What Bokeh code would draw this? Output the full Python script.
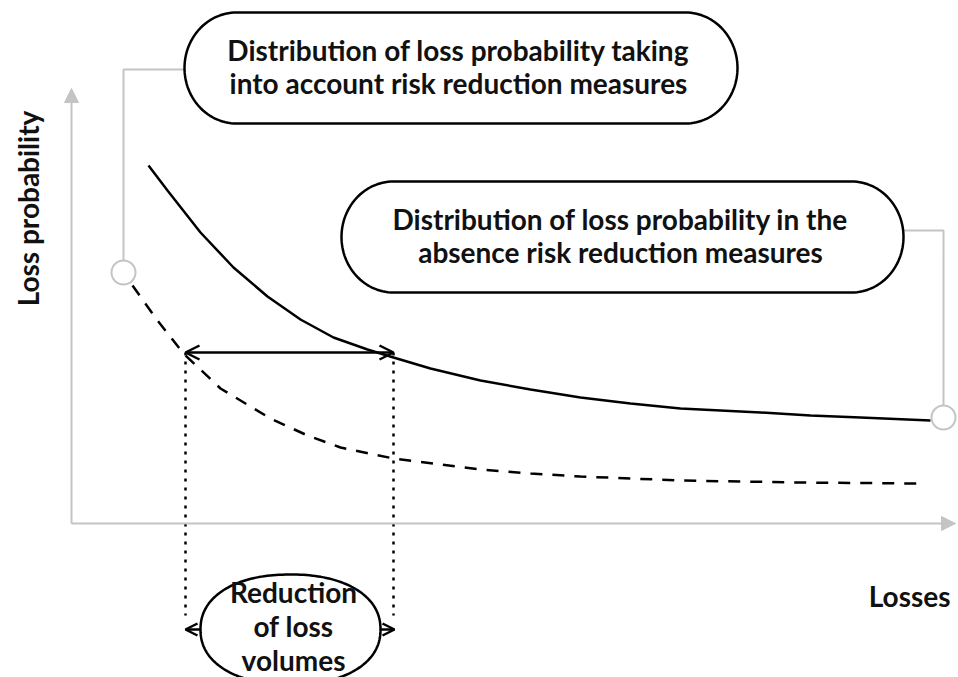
import numpy as np
from bokeh.plotting import figure
from bokeh.models import Range1d, Arrow, OpenHead, NormalHead
from bokeh.core.properties import value
from bokeh.embed import file_html
from bokeh.resources import INLINE

# ---- data (schematic; x = losses, y = probability in plot units) ----
losses_solid = [148, 167, 200, 233, 267, 300, 333, 367, 393, 430, 480, 530, 580, 630, 680, 720, 760, 810, 860, 930]
prob_solid = [165, 190, 232, 267, 296, 319, 337, 349, 357, 368, 380, 389, 397, 403, 408, 410, 412, 415, 417, 420]
losses_dashed = [132, 157, 183, 220, 270, 307, 340, 393, 440, 480, 530, 580, 630, 680, 740, 800, 860, 917]
prob_dashed = [285, 320, 353, 388, 418, 435, 447, 458, 464, 469, 473, 476, 478, 480, 481, 482, 482.5, 483]
marker_x = [123, 943]
marker_y = [272, 417]
reduction_from = 185
reduction_to = 393
reduction_level = 352

box1_lines = ["Distribution of loss probability taking", "into account risk reduction measures"]
box2_lines = ["Distribution of loss probability in the", "absence risk reduction measures"]
ellipse_lines = ["Reduction", "of loss", "volumes"]
x_label = "Losses"
y_label = "Loss probability"

FONT = value("Lato")
FS = "28px"
GRAY = "#c4c4c4"
INK = "#111111"

W, H = 958, 677
p = figure(width=W, height=H, x_range=Range1d(0, W), y_range=Range1d(H, 0),
           output_backend="svg", toolbar_location=None, min_border=0,
           x_axis_location=None, y_axis_location=None)
p.grid.visible = False
p.outline_line_color = None
p.background_fill_color = "white"


def stadium(x0, x1, y0, y1, rx):
    ry = (y1 - y0) / 2.0
    cy = (y0 + y1) / 2.0
    t1 = np.linspace(-np.pi / 2, np.pi / 2, 60)
    t2 = np.linspace(np.pi / 2, 3 * np.pi / 2, 60)
    xs = np.concatenate([x1 - rx + rx * np.cos(t1), x0 + rx + rx * np.cos(t2)])
    ys = np.concatenate([cy + ry * np.sin(t1), cy + ry * np.sin(t2)])
    return xs, ys


def superellipse(cx, cy, rx, ry, n):
    t = np.linspace(0, 2 * np.pi, 200)
    c, s = np.cos(t), np.sin(t)
    xs = cx + rx * np.sign(c) * np.abs(c) ** (2.0 / n)
    ys = cy + ry * np.sign(s) * np.abs(s) ** (2.0 / n)
    return xs, ys

# gray axes with arrowheads
p.add_layout(Arrow(x_start=71, y_start=523, x_end=71, y_end=88, line_color=GRAY, line_width=2,
                   end=NormalHead(size=14, fill_color=GRAY, line_color=GRAY)))
p.add_layout(Arrow(x_start=71, y_start=523, x_end=955, y_end=523, line_color=GRAY, line_width=2,
                   end=NormalHead(size=14, fill_color=GRAY, line_color=GRAY)))

# gray connectors
p.line([marker_x[0], marker_x[0], 185], [marker_y[0], 69, 69], line_color=GRAY, line_width=2)
p.line([marker_x[1], marker_x[1], 900], [marker_y[1], 230, 230], line_color=GRAY, line_width=2)

# curves
p.line(losses_solid, prob_solid, line_color="black", line_width=2.5)
p.line(losses_dashed, prob_dashed, line_color="black", line_width=2.5, line_dash="12 10")

# markers
p.scatter(marker_x, marker_y, size=24, marker="circle", fill_color="white",
          line_color=GRAY, line_width=2)

# dotted verticals
for xv in (reduction_from, reduction_to):
    p.line([xv, xv], [reduction_level, 615], line_color="black", line_width=2.5, line_dash="3 6")

# double arrow
p.add_layout(Arrow(x_start=reduction_from, y_start=reduction_level, x_end=reduction_to,
                   y_end=reduction_level, line_color="black", line_width=2.5,
                   start=OpenHead(size=14, line_width=2.5), end=OpenHead(size=14, line_width=2.5)))

# callout boxes
bx, by = stadium(184, 737, 12, 123, 52)
p.patch(bx, by, fill_color="white", line_color="black", line_width=2.5)
bx, by = stadium(341, 903, 181, 292, 52)
p.patch(bx, by, fill_color="white", line_color="black", line_width=2.5)

p.text([458, 458], [49, 82], text=box1_lines, text_font=FONT, text_font_style="bold",
       text_font_size=FS, text_align="center", text_baseline="alphabetic", text_color=INK)
p.text([620, 620], [218, 251], text=box2_lines, text_font=FONT, text_font_style="bold",
       text_font_size=FS, text_align="center", text_baseline="alphabetic", text_color=INK)

# rounded ellipse with small arrows
ex, ey = superellipse(290, 629, 90, 55, 2.2)
p.patch(ex, ey, fill_color="white", line_color="black", line_width=2.5)
p.add_layout(Arrow(x_start=200, y_start=629, x_end=185, y_end=629, line_color="black", line_width=2.5,
                   end=OpenHead(size=12, line_width=2.5)))
p.add_layout(Arrow(x_start=380, y_start=629, x_end=394, y_end=629, line_color="black", line_width=2.5,
                   end=OpenHead(size=12, line_width=2.5)))
p.text([293, 293, 293], [591, 625, 659], text=ellipse_lines, text_font=FONT, text_font_style="bold",
       text_font_size=FS, text_align="center", text_baseline="alphabetic", text_color=INK)

# axis labels
p.text([950], [595], text=[x_label], text_font=FONT, text_font_style="bold",
       text_font_size=FS, text_align="right", text_baseline="alphabetic", text_color=INK)
p.text([27], [208], text=[y_label], angle=np.pi / 2, text_font=FONT, text_font_style="bold",
       text_font_size=FS, text_align="center", text_baseline="middle", text_color=INK)

open("out.html", "w").write(file_html(p, INLINE))
